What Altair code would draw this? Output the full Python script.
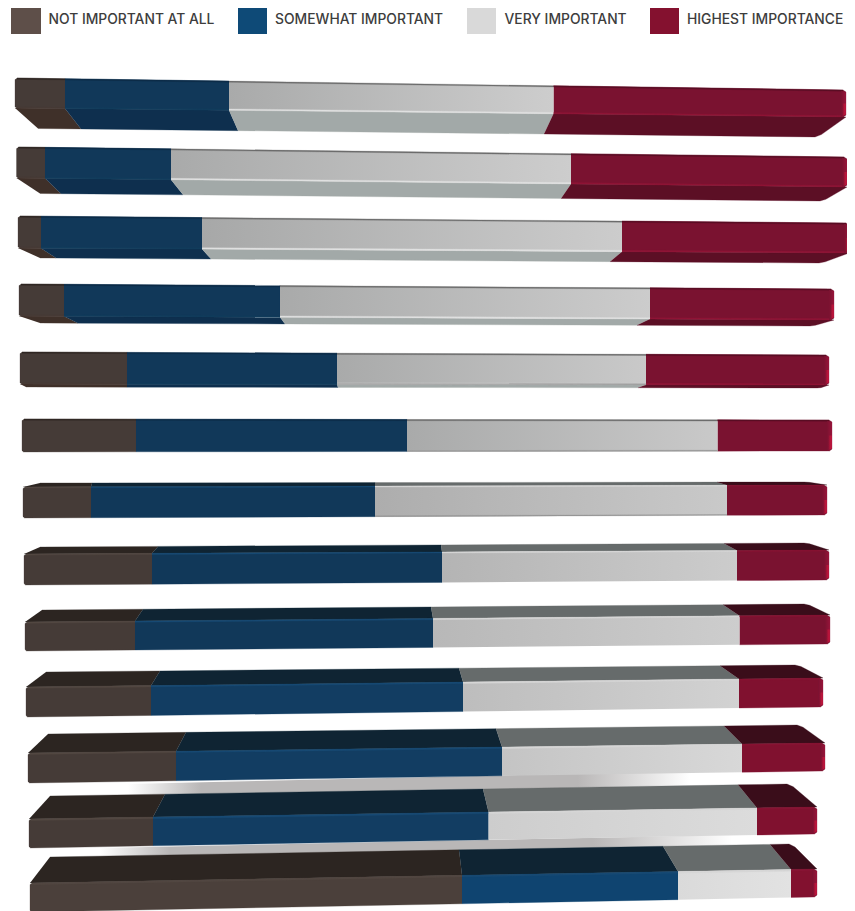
import altair as alt
import pandas as pd

# ---- legend ----
categories = ["NOT IMPORTANT AT ALL", "SOMEWHAT IMPORTANT", "VERY IMPORTANT", "HIGHEST IMPORTANCE"]
swatch_x0 = [11, 238, 467, 650]
swatch_x1 = [41, 267, 496, 679]
swatch_col = ["#5e4f49", "#0e4a77", "#d9d9d9", "#84112f"]
label_x = [48.5, 275, 504.5, 687]

# ---- bars: segment boundaries on the front face and on the second (under / top) face ----
front_x = [
    [15, 65, 229, 553.5, 846], [16.5, 45, 171, 571, 847], [18, 41, 202, 622, 849],
    [19, 64, 280, 650, 834], [20, 127, 337, 646, 829], [22, 136, 407, 717.5, 832],
    [23, 91, 375, 727, 827], [24, 152, 442, 737, 829], [25, 135, 433, 739.5, 830],
    [26, 151, 463, 739, 823], [28, 176, 502, 742, 825], [29, 153, 488.5, 757, 817],
    [30, 462, 678, 791, 817],
]
other_x = [
    [38, 81, 238, 544, 818], [40, 61, 183, 561, 823], [40, 56, 211, 610, 822],
    [40, 78, 285, 637, 813], [26, 127, 338, 638, 820], None,
    [40, 92, 375, 717, 807], [40, 158, 441, 724, 807], [42, 143, 431, 723, 807],
    [46, 160, 459, 720, 798], [48, 186, 496, 724, 800], [50, 165, 483, 738, 790],
    [50, 459, 663, 770, 792],
]
front_top_l = [78, 147, 216, 284, 352, 419, 487, 554, 622, 687, 753, 819, 883]
front_top_r = [90, 157, 223, 289, 355, 420, 485, 550, 615, 678, 743, 807, 869]
front_bot_l = [108, 178, 248, 316, 384, 452, 518, 585, 651, 717, 783, 848, 912]
front_bot_r = [117, 187, 253, 320, 385, 451, 515, 580, 644, 707, 771, 834, 897]
other_l = [128.5, 193.5, 258, 323, 387, None, 483, 547, 610, 672, 734, 796, 857]
other_r = [137, 201, 263, 326, 388, None, 482, 543, 604, 665, 725, 784, 844]

gray_left = ["#a9aaaa", "#a9aaaa", "#a7a8a8", "#a9aaaa", "#a9aaaa", "#a9aaaa", "#adadad",
             "#b4b4b4", "#b8b8b8", "#bdbdbd", "#c4c4c4", "#cdcdcd", "#dadada"]
gray_right = ["#cdcdcd", "#cdcdcd", "#cccccc", "#cccccc", "#c9c9c9", "#c9c9c9", "#c9c9c9",
              "#cccccc", "#cdcdcd", "#d2d2d2", "#d8d8d8", "#dcdcdc", "#e2e2e2"]

front_col = ["#453b37", "#113859", None, "#7a1230"]
under_col = ["#3f3029", "#0e2f4e", "#a2a9a8", "#5c0f25"]
top_col = ["#2c2521", "#0f2433", "#666b6b", "#3a0d1a"]
edge_dark = ["#2e2723", "#0c2b47", "#6d6d6d", "#5a0e24"]
edge_hi_under = ["#463a35", "#123c5c", "#e0e1e1", "#8f1536"]
edge_hi_top = ["#524742", "#184a74", "#d6d6d6", "#871333"]
end_mid = "#98143a"
end_hi = "#d0163f"

# soft reflections between the last bars
shadow_x = [[128, 690], [100, 732]]
shadow_y = [[784, 771, 798, 785], [848, 835, 860, 846]]
shadow_stop = [[0.13, 0.9], [0.11, 0.88]]


def lerp(x, x0, y0, x1, y1):
    return y0 + (y1 - y0) * (x - x0) / (x1 - x0)


base, strips, ends, hot = [], [], [], []
pid = [0]


def poly(store, pts, fill=None, group=None):
    pid[0] += 1
    for i, (x, y) in enumerate(pts):
        store.append(dict(id=pid[0], i=i, x=x, y=y, fill=fill, group=group))


gray_faces = []
for r in range(13):
    fx, ox = front_x[r], other_x[r]
    xl, xr = fx[0], fx[-1]
    ytop = lambda x: lerp(x, xl, front_top_l[r], xr, front_top_r[r])
    ybot = lambda x: lerp(x, xl, front_bot_l[r], xr, front_bot_r[r])
    upper = r > 5
    for s in range(4):
        a, b = fx[s], fx[s + 1]
        quad = [(a, ytop(a)), (b, ytop(b)), (b, ybot(b)), (a, ybot(a))]
        if s == 0:  # softened outer corners
            quad = [(a + 2, ytop(a + 2)), (b, ytop(b)), (b, ybot(b)), (a + 1.5, ybot(a + 1.5)),
                    (a, ybot(a) - 1.5), (a, ytop(a) + 1.5)]
        if s == 3:
            quad = [(a, ytop(a)), (b - 3, ytop(b - 3)), (b, ytop(b) + 2), (b, ybot(b) - 2),
                    (b - 2.5, ybot(b - 2.5)), (a, ybot(a))]
        if s == 2:
            poly(gray_faces, quad, group=r)
        else:
            col = front_col[s]
            if r == 12:
                col = {0: "#4b403b", 1: "#0f4470", 3: "#82112f"}[s]
            elif r >= 9:
                col = {0: "#453b37", 1: "#123d62", 3: "#80112f"}[s]
            poly(base, quad, fill=col)
        if ox is not None:
            oa, ob = ox[s], ox[s + 1]
            oy = lambda x: lerp(x, ox[0], other_l[r], ox[-1], other_r[r])
            edge = ytop if upper else ybot
            face = [(a, edge(a)), (b, edge(b)), (ob, oy(ob)), (oa, oy(oa))]
            if s == 3:  # rounded far corner at the red end
                face = [(a, edge(a)), (b, edge(b)),
                        (ob + (b - ob) * 0.12, oy(ob) + (edge(b) - oy(ob)) * 0.12),
                        (ob - 3, oy(ob - 3)), (oa, oy(oa))]
            poly(base, face, fill=(top_col if upper else under_col)[s])
        # thin edges along the face
        ia = a + (2 if s == 0 else 0)
        ib = b - (3 if s == 3 else 0)
        if upper:
            h = 1.0 + 0.12 * (r - 6)
            poly(strips, [(ia, ytop(ia)), (ib, ytop(ib)), (ib, ytop(ib) + h), (ia, ytop(ia) + h)], fill=edge_hi_top[s])
        else:
            poly(strips, [(ia, ytop(ia)), (ib, ytop(ib)), (ib, ytop(ib) + 1.2), (ia, ytop(ia) + 1.2)], fill=edge_dark[s])
            if ox is not None:
                poly(strips, [(ia, ybot(ia) - 1.4), (ib, ybot(ib) - 1.4), (ib, ybot(ib)), (ia, ybot(ia))], fill=edge_hi_under[s])
        if s == 2 and r in (4, 5, 6):
            poly(strips, [(a, ybot(a) - 0.9), (b, ybot(b) - 0.9), (b, ybot(b)), (a, ybot(a))], fill="#949494")
    # bright rim at the right end of the red piece
    poly(ends, [(xr - 5, ytop(xr - 5) + 1), (xr, ytop(xr) + 2), (xr, ybot(xr) - 2), (xr - 5, ybot(xr - 5))])
    mid = (ytop(xr) + ybot(xr)) / 2
    poly(hot, [(xr - 3.5, mid), (xr - 0.4, mid), (xr - 0.4, ybot(xr) - 2.4), (xr - 3.5, ybot(xr) - 1)])

SX = alt.Scale(domain=[8, 847])
SY = alt.Scale(domain=[911, 8])
X = alt.X("x:Q", scale=SX, axis=None)
Y = alt.Y("y:Q", scale=SY, axis=None)


def gradient(stops, horizontal=True):
    return alt.LinearGradient(
        gradient="linear", x1=0, y1=0, x2=1 if horizontal else 0, y2=0 if horizontal else 1,
        stops=[alt.GradientStop(offset=o, color=c) for o, c in stops],
    )


def plain(df):
    return alt.Chart(df).mark_line(strokeWidth=0.3, clip=True).encode(
        x=X, y=Y, order="i:Q", detail="id:N",
        fill=alt.Fill("fill:N", scale=None, legend=None),
        stroke=alt.Stroke("fill:N", scale=None, legend=None),
    )


def shaded(df, fill):
    return alt.Chart(df).mark_line(fill=fill, strokeWidth=0, clip=True).encode(
        x=X, y=Y, order="i:Q", detail="id:N"
    )


layers = []
for (x0, x1), (tl, tr, bl, br), (f0, f1) in zip(shadow_x, shadow_y, shadow_stop):
    rows = []
    poly(rows, [(x0, tl), (x1, tr), (x1, br), (x0, bl)])
    layers.append(shaded(pd.DataFrame(rows), gradient(
        [(0, "#ffffff"), (f0, "#b9b7b7"), (f1 - 0.1, "#b9b7b7"), (1, "#ffffff")])))

layers.append(plain(pd.DataFrame(base)))
gdf = pd.DataFrame(gray_faces)
for r in range(13):
    layers.append(shaded(gdf[gdf.group == r], gradient([(0, gray_left[r]), (1, gray_right[r])])))
layers.append(plain(pd.DataFrame(strips)))
layers.append(shaded(pd.DataFrame(ends), gradient([(0, "#7a1230"), (1, end_mid)])))
layers.append(shaded(pd.DataFrame(hot), gradient([(0, "#8a1232"), (1, end_hi)])))

legend_df = pd.DataFrame(dict(x=swatch_x0, x2=swatch_x1, col=swatch_col, lab=categories, lx=label_x))
layers.append(alt.Chart(legend_df).mark_rect().encode(
    x=X, x2="x2:Q", y=alt.datum(5, scale=SY, axis=None), y2=alt.datum(34),
    fill=alt.Fill("col:N", scale=None, legend=None)))
layers.append(alt.Chart(legend_df).mark_text(
    align="left", baseline="middle", font="Inter", fontSize=13.85, fontWeight=500, color="#3d3d3d"
).encode(x=alt.X("lx:Q", scale=SX, axis=None),
         y=alt.datum(19.5, scale=SY, axis=None), text="lab:N"))

chart = alt.layer(*layers).resolve_scale(fill="independent", stroke="independent").properties(
    width=839, height=903, padding=0, autosize=alt.AutoSizeParams(type="none"),
).configure_view(stroke=None)

chart.save("out.html", embed_options={"renderer": "svg", "actions": False})
